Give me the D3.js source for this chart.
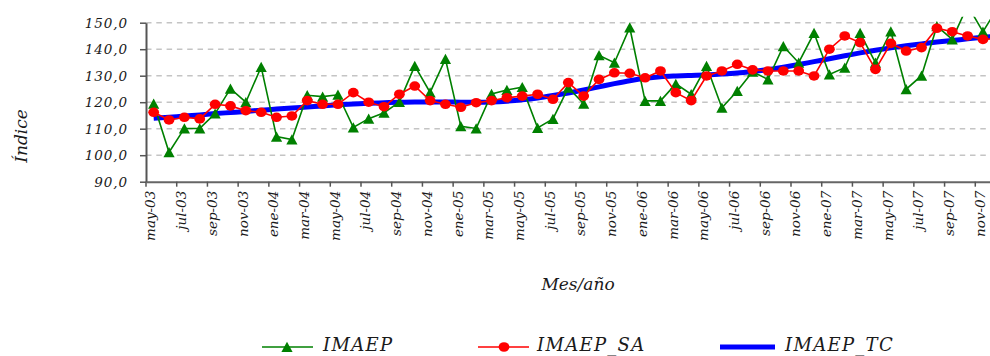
<!DOCTYPE html>
<html>
<head>
<meta charset="utf-8">
<script src="https://cdnjs.cloudflare.com/ajax/libs/d3/7.8.5/d3.min.js"></script>
<style>
body { margin: 0; background: #fff; }
svg text { font-family: "DejaVu Serif", serif; font-style: italic; fill: #1a1a1a; }
</style>
</head>
<body>
<svg id="chart"></svg>
<script>
var categories = [
    "may-03","jun-03","jul-03","ago-03","sep-03","oct-03","nov-03","dic-03",
    "ene-04","feb-04","mar-04","abr-04","may-04","jun-04","jul-04","ago-04","sep-04","oct-04","nov-04","dic-04",
    "ene-05","feb-05","mar-05","abr-05","may-05","jun-05","jul-05","ago-05","sep-05","oct-05","nov-05","dic-05",
    "ene-06","feb-06","mar-06","abr-06","may-06","jun-06","jul-06","ago-06","sep-06","oct-06","nov-06","dic-06",
    "ene-07","feb-07","mar-07","abr-07","may-07","jun-07","jul-07","ago-07","sep-07","oct-07","nov-07","dic-07"
];

var imaep = [
    119.4, 101.1, 110.1, 110.1, 115.7, 125.1, 120.0, 133.3,
    107.0, 105.9, 122.6, 122.1, 122.8, 110.5, 113.8, 116.0, 120.1, 133.7, 123.7, 136.3,
    110.9, 110.1, 123.1, 124.6, 125.7, 110.3, 113.7, 125.5, 119.4, 137.7, 134.9, 148.2,
    120.5, 120.5, 126.9, 123.0, 133.7, 117.9, 124.2, 131.5, 128.6, 141.1, 134.9, 146.1,
    130.5, 133.0, 146.1, 134.9, 146.7, 124.9, 130.0, 148.7, 143.7, 156.5, 146.6, 156.0
];

var imaep_sa = [
    116.2, 113.3, 114.3, 113.7, 119.2, 118.6, 116.8, 116.2,
    114.3, 114.8, 120.6, 119.2, 119.2, 123.6, 120.0, 118.3, 123.0, 126.1, 120.6, 119.2,
    118.1, 119.8, 120.6, 121.7, 122.3, 123.0, 121.1, 127.4, 122.3, 128.6, 131.1, 130.9,
    129.2, 131.8, 123.6, 120.6, 129.9, 131.8, 134.3, 132.2, 131.8, 131.8, 131.8, 129.9,
    140.0, 145.0, 142.5, 132.4, 142.2, 139.3, 140.6, 147.9, 146.6, 145.0, 143.7, 144.0
];

var imaep_tc = [
    113.9, 114.3, 114.8, 115.2, 115.7, 116.1, 116.5, 117.0,
    117.4, 117.8, 118.2, 118.6, 119.0, 119.3, 119.6, 119.8, 120.0, 120.1, 120.1, 120.1,
    120.0, 120.0, 120.1, 120.4, 120.9, 121.6, 122.5, 123.5, 124.6, 125.8, 127.0, 128.1,
    129.0, 129.6, 129.9, 130.1, 130.3, 130.6, 131.0, 131.6, 132.3, 133.2, 134.2, 135.3,
    136.4, 137.5, 138.6, 139.6, 140.5, 141.3, 142.0, 142.7, 143.3, 143.9, 144.5, 145.0
];

var y_ticks = [90, 100, 110, 120, 130, 140, 150];
var legend_labels = ["IMAEP", "IMAEP_SA", "IMAEP_TC"];

var margin = {top: 22.7, left: 146},
    width = 860,
    height = 159;

var svg = d3.select("#chart")
    .attr("width", 990)
    .attr("height", 356);

var g = svg.append("g")
    .attr("transform", "translate(" + margin.left + "," + margin.top + ")");

var xScale = d3.scaleBand().domain(categories).range([0, width]);
var yScale = d3.scaleLinear().domain([90, 150]).range([height, 0]);
var bw = xScale.bandwidth();

function cx(d, i) { return xScale(categories[i]) + bw / 2; }

// gridlines
g.append("g")
    .selectAll("line")
    .data(y_ticks.slice(1))
    .enter()
    .append("line")
    .attr("x1", 0)
    .attr("x2", width)
    .attr("y1", function(d){ return yScale(d); })
    .attr("y2", function(d){ return yScale(d); })
    .attr("stroke", "#c4c4c4")
    .attr("stroke-width", 1.4)
    .attr("stroke-dasharray", "5.5,4.8");

// y axis
var yAxis = g.append("g")
    .call(d3.axisLeft(yScale)
        .tickValues(y_ticks)
        .tickSize(6)
        .tickSizeOuter(0)
        .tickPadding(12)
        .tickFormat(function(d){ return d3.format(".1f")(d).replace(".", ","); }));
yAxis.select(".domain").attr("stroke", "#555").attr("stroke-width", 2);
yAxis.selectAll(".tick line").attr("stroke", "#555").attr("stroke-width", 1.5);
yAxis.selectAll("text")
    .style("font-size", "13.5px")
    .style("letter-spacing", "0.9px")
    .attr("fill", "#1a1a1a");

// x axis
var labelCats = categories.filter(function(d, i){ return i % 2 === 0; });
var xAxis = g.append("g")
    .attr("transform", "translate(0," + height + ")")
    .call(d3.axisBottom(xScale)
        .tickValues(labelCats)
        .tickSize(5)
        .tickSizeOuter(0));
xAxis.select(".domain").attr("stroke", "#666").attr("stroke-width", 2);
xAxis.selectAll(".tick line")
    .attr("x1", -bw / 2)
    .attr("x2", -bw / 2)
    .attr("stroke", "#555")
    .attr("stroke-width", 1.5);
xAxis.selectAll("text")
    .attr("transform", "rotate(-90)")
    .attr("x", -9)
    .attr("y", -3)
    .attr("dy", "0.35em")
    .style("text-anchor", "end")
    .style("font-size", "13.5px")
    .attr("fill", "#1a1a1a");

// series
svg.append("clipPath").attr("id", "plotclip")
    .append("rect")
    .attr("x", 0).attr("y", -6)
    .attr("width", width).attr("height", height + 6);

var plot = g.append("g").attr("clip-path", "url(#plotclip)");

var line = d3.line()
    .x(cx)
    .y(function(d){ return yScale(d); });

plot.append("path")
    .datum(imaep_tc)
    .attr("fill", "none")
    .attr("stroke", "#0000ff")
    .attr("stroke-width", 5)
    .attr("stroke-linejoin", "round")
    .attr("d", line.curve(d3.curveMonotoneX));

line.curve(d3.curveLinear);

plot.append("path")
    .datum(imaep)
    .attr("fill", "none")
    .attr("stroke", "#008000")
    .attr("stroke-width", 1.6)
    .attr("d", line);

var tri = "M0,-5.2L5.6,5L-5.6,5Z";

plot.selectAll(".tri")
    .data(imaep)
    .enter()
    .append("path")
    .attr("class", "tri")
    .attr("d", tri)
    .attr("fill", "#008000")
    .attr("transform", function(d, i){ return "translate(" + cx(d, i) + "," + yScale(d) + ")"; });

plot.append("path")
    .datum(imaep_sa)
    .attr("fill", "none")
    .attr("stroke", "#ff0000")
    .attr("stroke-width", 1.6)
    .attr("d", line);

plot.selectAll(".dot")
    .data(imaep_sa)
    .enter()
    .append("ellipse")
    .attr("class", "dot")
    .attr("cx", cx)
    .attr("cy", function(d){ return yScale(d); })
    .attr("rx", 5.4)
    .attr("ry", 4.8)
    .attr("fill", "#ff0000");

// axis titles
svg.append("text")
    .attr("transform", "translate(27,136) rotate(-90)")
    .style("text-anchor", "middle")
    .style("font-size", "17px")
    .text("Índice");

svg.append("text")
    .attr("x", 578)
    .attr("y", 290)
    .style("text-anchor", "middle")
    .style("font-size", "17px")
    .text("Mes/año");

// legend
var legend = svg.append("g").attr("transform", "translate(0,347)");
var legendX = [262, 478, 720];
var legendColors = ["#008000", "#ff0000", "#0000ff"];

legend.selectAll(".lg-line")
    .data(legend_labels)
    .enter()
    .append("line")
    .attr("x1", function(d, i){ return legendX[i]; })
    .attr("x2", function(d, i){ return legendX[i] + (i === 2 ? 55 : 51); })
    .attr("y1", 0).attr("y2", 0)
    .attr("stroke", function(d, i){ return legendColors[i]; })
    .attr("stroke-width", function(d, i){ return i === 2 ? 5 : 1.6; });

legend.append("path")
    .attr("d", tri)
    .attr("fill", "#008000")
    .attr("transform", "translate(287,0)");

legend.append("ellipse")
    .attr("cx", 504).attr("cy", 0)
    .attr("rx", 5.4).attr("ry", 4.8)
    .attr("fill", "#ff0000");

legend.selectAll(".lg-text")
    .data(legend_labels)
    .enter()
    .append("text")
    .attr("x", function(d, i){ return [323, 537, 785][i]; })
    .attr("y", -1.5)
    .attr("dy", "0.3em")
    .style("font-size", "18px")
    .style("letter-spacing", "1.3px")
    .text(function(d){ return d; });
</script>
</body>
</html>
